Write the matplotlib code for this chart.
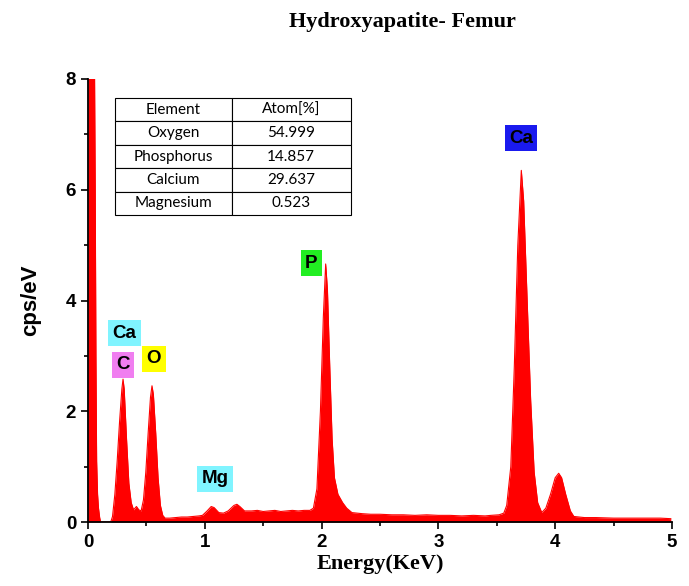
import matplotlib.pyplot as plt
from matplotlib.ticker import MultipleLocator

# spectrum (keV, cps/eV)
energy = [0.000, 0.055, 0.062, 0.068, 0.074, 0.082, 0.090, 0.100, 0.108, 0.195,
          0.210, 0.230, 0.250, 0.270, 0.290, 0.300, 0.310, 0.330, 0.350, 0.370,
          0.390, 0.415, 0.435, 0.455, 0.475, 0.495, 0.515, 0.535, 0.548, 0.560,
          0.580, 0.600, 0.620, 0.640, 0.660, 0.700, 0.750, 0.800, 0.850, 0.900,
          0.950, 0.980, 1.020, 1.055, 1.080, 1.120, 1.160, 1.200, 1.250, 1.275,
          1.300, 1.340, 1.400, 1.450, 1.500, 1.550, 1.600, 1.650, 1.700, 1.750,
          1.800, 1.850, 1.900, 1.930, 1.960, 1.990, 2.015, 2.035, 2.050, 2.070,
          2.090, 2.110, 2.140, 2.180, 2.215, 2.260, 2.350, 2.420, 2.500, 2.600,
          2.700, 2.800, 2.900, 3.000, 3.100, 3.200, 3.300, 3.400, 3.450, 3.520,
          3.560, 3.585, 3.620, 3.650, 3.680, 3.710, 3.730, 3.760, 3.790, 3.820,
          3.850, 3.885, 3.920, 3.960, 4.000, 4.030, 4.055, 4.090, 4.130, 4.160,
          4.250, 4.350, 4.500, 4.650, 4.800, 4.900, 4.990]
cps = [8.50, 8.50, 6.00, 3.00, 1.10, 0.50, 0.25, 0.08, 0.00, 0.00,
       0.10, 0.50, 1.10, 1.80, 2.40, 2.58, 2.40, 1.50, 0.70, 0.35,
       0.22, 0.28, 0.22, 0.20, 0.40, 0.90, 1.60, 2.25, 2.46, 2.30,
       1.60, 0.80, 0.30, 0.12, 0.07, 0.07, 0.08, 0.09, 0.09, 0.10,
       0.11, 0.12, 0.20, 0.28, 0.26, 0.17, 0.16, 0.20, 0.30, 0.32,
       0.28, 0.20, 0.20, 0.21, 0.19, 0.20, 0.21, 0.19, 0.20, 0.21,
       0.20, 0.21, 0.21, 0.25, 0.60, 2.00, 3.70, 4.66, 4.20, 2.80,
       1.50, 0.80, 0.50, 0.35, 0.25, 0.17, 0.15, 0.14, 0.14, 0.13,
       0.13, 0.12, 0.13, 0.12, 0.12, 0.11, 0.12, 0.11, 0.12, 0.13,
       0.16, 0.30, 1.00, 2.80, 5.00, 6.35, 5.80, 4.00, 2.20, 0.90,
       0.35, 0.17, 0.25, 0.50, 0.80, 0.88, 0.80, 0.50, 0.20, 0.10,
       0.08, 0.08, 0.07, 0.07, 0.07, 0.07, 0.06]

# element markers
peak_labels = ['Ca', 'C', 'O', 'Mg', 'P', 'Ca']
label_x = [0.31, 0.30, 0.565, 1.087, 1.913, 3.707]
label_y = [3.41, 2.84, 2.95, 0.785, 4.675, 6.93]
label_colors = ['#80f4ff', '#f07ef0', '#ffff00', '#80f4ff', '#22ee22', '#1a1aee']

# composition table
elements = ['Oxygen', 'Phosphorus', 'Calcium', 'Magnesium']
atom_pct = ['54.999', '14.857', '29.637', '0.523']

fig = plt.figure(figsize=(6.89, 5.86), dpi=100)
ax = fig.add_axes([0.1277, 0.1092, 0.8476, 0.756])

ax.fill_between(energy, cps, 0, color='#ff0000', linewidth=0)
ax.plot(energy, cps, color='#ff0000', linewidth=0.8)

ax.set_xlim(0, 5)
ax.set_ylim(0, 8)
ax.spines['top'].set_visible(False)
ax.spines['right'].set_visible(False)
for s in ['left', 'bottom']:
    ax.spines[s].set_linewidth(1.3)
    ax.spines[s].set_zorder(5)

ax.xaxis.set_major_locator(MultipleLocator(1))
ax.xaxis.set_minor_locator(MultipleLocator(0.5))
ax.yaxis.set_major_locator(MultipleLocator(2))
ax.yaxis.set_minor_locator(MultipleLocator(1))
ax.tick_params(which='major', direction='out', length=5, width=1.2)
ax.tick_params(which='minor', direction='out', length=2.6, width=1.2)
for lab in ax.get_xticklabels() + ax.get_yticklabels():
    lab.set_fontfamily('Liberation Sans')
    lab.set_fontweight('bold')
    lab.set_fontsize(13.5)

ax.set_xlabel('Energy(KeV)', fontfamily='Liberation Serif', fontweight='bold',
              fontsize=16, labelpad=2)
ax.set_ylabel('cps/eV', fontfamily='Liberation Sans', fontweight='bold',
              fontsize=16, labelpad=18)
fig.text(0.584, 0.962, 'Hydroxyapatite- Femur', fontfamily='Liberation Serif',
         fontweight='bold', fontsize=16, ha='center', va='center')

for t, x, y, c in zip(peak_labels, label_x, label_y, label_colors):
    ax.text(x, y, t, fontfamily='Liberation Sans', fontweight='bold', fontsize=13.5,
            ha='center', va='center', zorder=6,
            bbox=dict(boxstyle='square,pad=0.24', facecolor=c, edgecolor='none'))

rows = [[e, v] for e, v in zip(elements, atom_pct)]
tab = ax.table(cellText=rows, colLabels=['Element', 'Atom[%]'], cellLoc='center',
               bbox=[0.046, 0.693, 0.404, 0.264], zorder=6)
tab.auto_set_font_size(False)
for (r, col), cell in tab.get_celld().items():
    cell.set_linewidth(0.8)
    cell.set_facecolor('white')
    cell.get_text().set_fontsize(11)
    cell.get_text().set_fontfamily('Lato')
    cell.set_width(0.200 if col == 0 else 0.204)

fig.savefig('out.png', dpi=100)
